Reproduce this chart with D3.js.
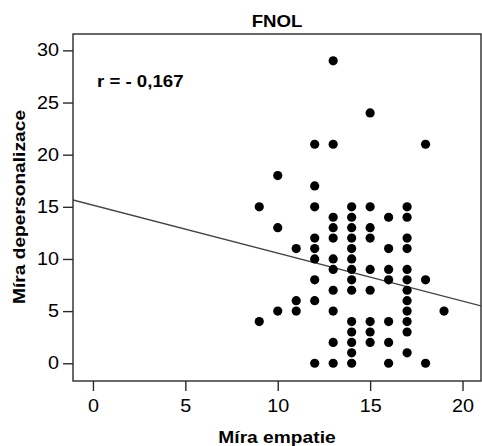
<!DOCTYPE html>
<html><head><meta charset="utf-8">
<script src="https://cdn.jsdelivr.net/npm/d3@7"></script>
<style>body{margin:0;background:#fff}svg{display:block}</style>
</head><body>
<script>
// Data: empathy (x) and depersonalization (y) pairs
const empatie = [13,15,12,13,18,10,12,
 9,12,14,15,17, 13,14,16,17, 10,13,14,15, 12,13,14,15,17, 11,12,14,16,17,
 12,13,14, 13,14,15,16,17, 12,14,16,17,18, 13,14,15,17, 11,12,17,
 10,11,13,17,19, 9,14,15,16,17, 14,15,17, 13,14,15,16, 14,17, 12,13,14,16,18];
const depersonalizace = [29,24,21,21,21,18,17,
 15,15,15,15,15, 14,14,14,14, 13,13,13,13, 12,12,12,12,12, 11,11,11,11,11,
 10,10,10, 9,9,9,9,9, 8,8,8,8,8, 7,7,7,7, 6,6,6,
 5,5,5,5,5, 4,4,4,4,4, 3,3,3, 2,2,2,2, 1,1, 0,0,0,0,0];
const xTicks = [0,5,10,15,20];
const yTicks = [0,5,10,15,20,25,30];
const fitIntercept = 15.16, fitSlope = -0.46;
const titleText = "FNOL", xTitle = "Míra empatie", yTitle = "Míra depersonalizace", rText = "r = - 0,167";

const W = 482, H = 446;
const L = 73, R = 481, T = 34, B = 381;
const sx = 1.13; // horizontal text stretch
const svg = d3.select("body").append("svg").attr("width", W).attr("height", H);
const x = d3.scaleLinear().domain([-1.08, 21.0]).range([L, R]);
const y = d3.scaleLinear().domain([-1.7, 31.57]).range([B, T]);
const ink = "#2a2a2a";
const font = "'Liberation Sans', Arial, sans-serif";

function txt(s, px, py, size, weight, anchor, rot) {
  svg.append("text").text(s)
    .attr("transform", `translate(${px},${py})` + (rot ? ` rotate(${rot})` : "") + ` scale(${sx},1)`)
    .attr("font-family", font).attr("font-size", size).attr("font-weight", weight)
    .attr("text-anchor", anchor).attr("fill", "#000");
}

// regression line (clipped to frame)
svg.append("clipPath").attr("id", "c").append("rect").attr("x", L).attr("y", T).attr("width", R - L).attr("height", B - T);
const xd = x.domain();
svg.append("line").attr("clip-path", "url(#c)")
  .attr("x1", x(xd[0])).attr("y1", y(fitIntercept + fitSlope * xd[0]))
  .attr("x2", x(xd[1])).attr("y2", y(fitIntercept + fitSlope * xd[1]))
  .attr("stroke", "#444").attr("stroke-width", 1.3);

// points
svg.append("g").selectAll("circle").data(empatie.map((e, i) => [e, depersonalizace[i]]))
  .join("circle").attr("cx", d => x(d[0])).attr("cy", d => y(d[1])).attr("r", 4.6).attr("fill", "#000");

// frame
svg.append("rect").attr("x", L).attr("y", T).attr("width", R - L).attr("height", B - T)
  .attr("fill", "none").attr("stroke", ink).attr("stroke-width", 1.4);

// axes
const gx = svg.append("g").attr("transform", `translate(0,${B})`)
  .call(d3.axisBottom(x).tickValues(xTicks).tickSize(10).tickPadding(4));
const gy = svg.append("g").attr("transform", `translate(${L},0)`)
  .call(d3.axisLeft(y).tickValues(yTicks).tickSize(10).tickPadding(4));
[gx, gy].forEach(g => {
  g.select(".domain").remove();
  g.selectAll("line").attr("stroke", ink).attr("stroke-width", 1.4);
  g.selectAll("text").attr("font-family", font).attr("font-size", 17.5).attr("fill", "#000");
});
gx.selectAll(".tick text").attr("transform", `scale(${sx},1)`).attr("x", 0).attr("y", 19).attr("dy", "0.71em");
gy.selectAll(".tick text").attr("x", -14 / sx).attr("transform", `scale(${sx},1)`);

// titles
txt(titleText, 277, 27, 16.5, "bold", "middle");
txt(xTitle, 277, 443, 17, "bold", "middle");
txt(yTitle, 25, 207, 17, "bold", "middle", -90);
txt(rText, 97, 87, 16.5, "bold", "start");
</script>
</body></html>
